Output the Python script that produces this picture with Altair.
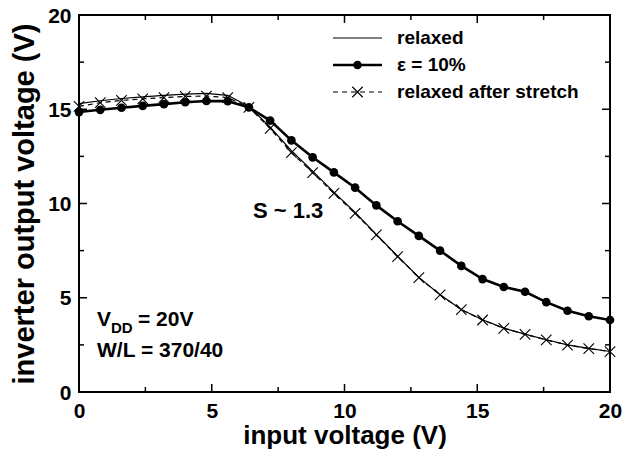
import altair as alt
import pandas as pd

# ---------------- data ----------------
vin = [0.0, 0.8, 1.6, 2.4, 3.2, 4.0, 4.8, 5.6, 6.4, 7.2, 8.0, 8.8, 9.6, 10.4,
       11.2, 12.0, 12.8, 13.6, 14.4, 15.2, 16.0, 16.8, 17.6, 18.4, 19.2, 20.0]

relaxed = [15.30, 15.45, 15.57, 15.66, 15.74, 15.80, 15.84, 15.74, 15.15, 14.05,
           12.80, 11.72, 10.60, 9.52, 8.36, 7.20, 6.08, 5.16, 4.38, 3.83,
           3.39, 3.07, 2.77, 2.50, 2.31, 2.15]

strain10 = [14.85, 14.97, 15.08, 15.18, 15.27, 15.37, 15.44, 15.43, 15.10, 14.40,
            13.35, 12.45, 11.65, 10.84, 9.90, 9.06, 8.28, 7.50, 6.69, 5.99,
            5.57, 5.32, 4.77, 4.31, 4.02, 3.82]

after_stretch = [15.15, 15.35, 15.47, 15.55, 15.62, 15.68, 15.70, 15.62, 15.10, 13.98,
                 12.70, 11.64, 10.54, 9.48, 8.33, 7.18, 6.07, 5.15, 4.37, 3.82,
                 3.38, 3.06, 2.76, 2.49, 2.30, 2.14]

major_ticks = [0, 5, 10, 15, 20]
minor_ticks = [2.5, 7.5, 12.5, 17.5]

legend_labels = ["relaxed", "ε = 10%", "relaxed after stretch"]

FONT = "Liberation Sans"
W, H = 531, 377

df_relaxed = pd.DataFrame({"x": vin, "y": relaxed})
df_strain = pd.DataFrame({"x": vin, "y": strain10})
df_after = pd.DataFrame({"x": vin, "y": after_stretch})
df_major = pd.DataFrame({"v": major_ticks})
df_minor = pd.DataFrame({"v": minor_ticks})
one = pd.DataFrame({"k": [0]})

xs = alt.Scale(domain=[0, 20], nice=False, zero=False)
ys = alt.Scale(domain=[0, 20], nice=False, zero=False)

X = alt.X("x:Q", scale=xs, axis=alt.Axis(
    values=major_ticks, ticks=False, domain=False, grid=False,
    title="input voltage (V)", labelFont=FONT, labelFontSize=21, labelFontWeight="bold",
    labelPadding=8, titleFont=FONT, titleFontSize=26, titleFontWeight="bold",
    titlePadding=1, labelColor="black", titleColor="black", labelFlush=False))
Y = alt.Y("y:Q", scale=ys, axis=alt.Axis(
    values=major_ticks, ticks=False, domain=False, grid=False,
    title="inverter output voltage (V)", labelFont=FONT, labelFontSize=21,
    labelFontWeight="bold", labelPadding=8, labelOffset=1, titleFont=FONT, titleFontSize=29,
    titleFontWeight="bold", titlePadding=8, labelColor="black", titleColor="black",
    labelFlush=False))

line_relaxed = alt.Chart(df_relaxed).mark_line(color="black", strokeWidth=1.2).encode(x=X, y=Y)
line_after = alt.Chart(df_after).mark_line(color="black", strokeWidth=1.2, strokeDash=[5, 4]).encode(x="x:Q", y="y:Q")
pts_after = alt.Chart(df_after).mark_point(
    shape="M-1,-1L1,1M1,-1L-1,1", size=110, filled=False, color="black", strokeWidth=1.1, opacity=1
).encode(x="x:Q", y="y:Q")
line_strain = alt.Chart(df_strain).mark_line(color="black", strokeWidth=2.6).encode(x="x:Q", y="y:Q")
pts_strain = alt.Chart(df_strain).mark_point(
    shape="circle", size=75, filled=True, color="black", opacity=1
).encode(x="x:Q", y="y:Q")

# inward ticks on all four sides
def ticks(df, L):
    b = alt.Chart(df).mark_rule(color="black", strokeWidth=1.5).encode(
        x=alt.X("v:Q", scale=xs), y=alt.value(H), y2=alt.value(H - L))
    t = alt.Chart(df).mark_rule(color="black", strokeWidth=1.5).encode(
        x=alt.X("v:Q", scale=xs), y=alt.value(0), y2=alt.value(L))
    l = alt.Chart(df).mark_rule(color="black", strokeWidth=1.5).encode(
        y=alt.Y("v:Q", scale=ys), x=alt.value(0), x2=alt.value(L))
    r = alt.Chart(df).mark_rule(color="black", strokeWidth=1.5).encode(
        y=alt.Y("v:Q", scale=ys), x=alt.value(W), x2=alt.value(W - L))
    return [b, t, l, r]

tick_layers = ticks(df_major, 8) + ticks(df_minor, 5)

# legend (drawn by hand)
LX0, LX1, LT = 254, 303, 318
LY = [23, 50, 77]
leg = []
leg.append(alt.Chart(one).mark_rule(color="black", strokeWidth=1.2).encode(
    x=alt.value(LX0), x2=alt.value(LX1), y=alt.value(LY[0])))
leg.append(alt.Chart(one).mark_rule(color="black", strokeWidth=2.6).encode(
    x=alt.value(LX0), x2=alt.value(LX1), y=alt.value(LY[1])))
leg.append(alt.Chart(one).mark_point(shape="circle", size=75, filled=True, color="black", opacity=1).encode(
    x=alt.value((LX0 + LX1) / 2), y=alt.value(LY[1])))
leg.append(alt.Chart(one).mark_rule(color="black", strokeWidth=1.2, strokeDash=[5, 4]).encode(
    x=alt.value(LX0), x2=alt.value(LX1), y=alt.value(LY[2])))
leg.append(alt.Chart(one).mark_point(shape="M-1,-1L1,1M1,-1L-1,1", size=110, filled=False,
                                     color="black", strokeWidth=1.1, opacity=1).encode(
    x=alt.value((LX0 + LX1) / 2), y=alt.value(LY[2])))
for lab, yy in zip(legend_labels, LY):
    leg.append(alt.Chart(one).mark_text(text=lab, font=FONT, fontSize=19, fontWeight="bold",
                                        align="left", baseline="middle", color="black").encode(
        x=alt.value(LT), y=alt.value(yy)))

# annotations
ann = []
ann.append(alt.Chart(one).mark_text(text="S ~ 1.3", font=FONT, fontSize=22, fontWeight="bold",
                                    align="left", baseline="middle", color="black").encode(
    x=alt.value(174), y=alt.value(196)))
ann.append(alt.Chart(one).mark_text(text="V", font=FONT, fontSize=21, fontWeight="bold",
                                    align="left", baseline="alphabetic", color="black").encode(
    x=alt.value(18), y=alt.value(311)))
ann.append(alt.Chart(one).mark_text(text="DD", font=FONT, fontSize=15, fontWeight="bold",
                                    align="left", baseline="alphabetic", color="black").encode(
    x=alt.value(32), y=alt.value(318)))
ann.append(alt.Chart(one).mark_text(text="= 20V", font=FONT, fontSize=21, fontWeight="bold",
                                    align="left", baseline="alphabetic", color="black").encode(
    x=alt.value(59), y=alt.value(311)))
ann.append(alt.Chart(one).mark_text(text="W/L = 370/40", font=FONT, fontSize=21, fontWeight="bold",
                                    align="left", baseline="alphabetic", color="black").encode(
    x=alt.value(18), y=alt.value(342)))

chart = alt.layer(
    line_relaxed, line_after, pts_after, line_strain, pts_strain,
    *tick_layers, *leg, *ann
).properties(
    width=W, height=H,
    autosize=alt.AutoSizeParams(type="none"),
    padding={"left": 71, "top": 7, "right": 16, "bottom": 57},
    background="white",
).configure_view(stroke="black", strokeWidth=2)

chart.save("out.html", embed_options={"renderer": "svg", "actions": False})
